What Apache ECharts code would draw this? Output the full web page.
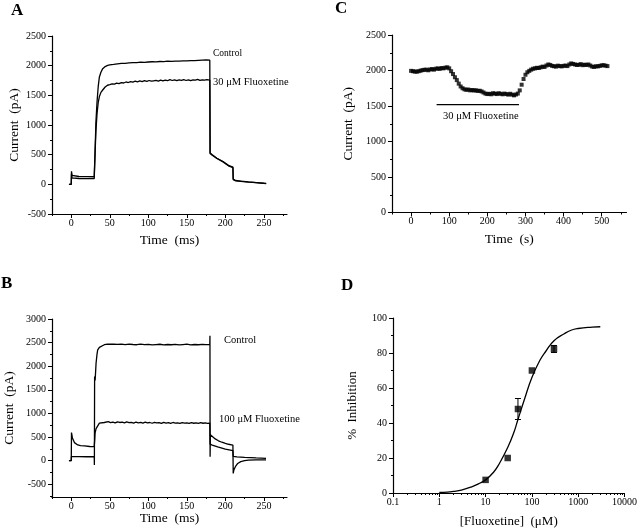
<!DOCTYPE html>
<html>
<head>
<meta charset="utf-8">
<script src="https://cdn.jsdelivr.net/npm/echarts@6/dist/echarts.min.js"></script>
<style>html,body{margin:0;padding:0;background:#fff}#c{width:640px;height:529px}</style>
</head>
<body>
<div id="c"></div>
<script>
// ---------- DATA ----------
// Panel A: current traces (time ms, current pA)
const aControl = [[-3,0],[0,0],[0.3,220],[1,150],[3,135],[10,132],[20,130],[29.8,128],[30,128],[31,600],[32,1050],[33.5,1400],[35,1650],[36.5,1810],[38.5,1890],[40.8,1950],[44,1985],[47.3,2005],
  [50,2015],[55,2022],[60,2030],[65,2038],[70,2040],[75,2046],[80,2050],[85,2052],[90,2058],[95,2055],[100,2062],[105,2066],[110,2064],[115,2070],[120,2068],[125,2075],[130,2072],[135,2078],[140,2076],[145,2082],[150,2080],[155,2086],[160,2084],[165,2090],[170,2095],[175,2098],[179.8,2092],
  [180,2092],[180.2,530],[183,500],[189,440],[197,385],[204,320],[209.8,290],[210,290],[210.2,90],[213,65],[220,55],[230,40],[240,30],[250,15],[253,12]];
const aFluox30 = [[-3,0],[0,0],[0.3,180],[1,110],[3,100],[10,98],[20,96],[29.8,95],[30,95],[31,550],[32,900],[33.5,1200],[35,1380],[36.5,1480],[38.5,1550],[40.8,1590],[44,1640],
  [47,1670],[50,1680],[53,1692],[56,1688],[59,1705],[62,1698],[65,1715],[68,1708],[71,1725],[74,1716],[77,1732],[80,1722],[83,1738],[86,1728],[89,1742],[92,1732],[95,1748],[98,1735],[101,1750],[104,1738],[107,1745],[110,1752],[113,1740],[116,1756],[119,1744],[122,1758],[125,1746],[128,1765],[131,1750],[134,1762],[137,1748],[140,1760],[143,1752],[146,1765],[149,1750],[152,1762],[155,1748],[158,1760],[161,1755],[164,1768],[167,1752],[170,1762],[173,1756],[176,1765],[179.8,1758],
  [180,1758],[180.2,520],[183,490],[189,435],[197,378],[204,312],[209.8,280],[210,280],[210.2,80],[213,60],[220,50],[230,38],[240,28],[250,18],[253,15]];

// Panel B: current traces (time ms, current pA)
const bControl = [[-3,0],[0,0],[0.2,85],[2,85],[10,85],[20,82],[29.8,85],[30,-90],[30.3,1780],[31,1700],[32.2,2066],[33.4,2250],[34.3,2348],[36.5,2400],[38.6,2433],[42.9,2455],[47.2,2468],
  [50,2465],[55,2470],[60,2462],[65,2468],[70,2458],[75,2466],[80,2460],[85,2455],[90,2468],[95,2458],[100,2462],[105,2450],[110,2458],[115,2465],[120,2452],[125,2460],[130,2455],[135,2462],[140,2450],[145,2458],[150,2466],[155,2452],[160,2460],[165,2455],[170,2462],[175,2458],[179.8,2460],
  [180,2645],[180.2,85],[180.5,550],[183,520],[186.9,460],[191,420],[195.5,390],[200,365],[204.1,347],[209.8,330],[210,330],[210.2,-270],[211,-200],[213,-127],[216,-60],[220,-21],[225,0],[230,12],[240,15],[252.8,15]];
const bFluox100 = [[-3,0],[0,0],[0.3,594],[1.5,480],[4.1,382],[8.4,333],[12,318],[17.1,312],[24,300],[29.8,297],[30,297],[30.5,450],[30.9,581],[32.2,680],[33.4,721],[36.5,793],[42.9,808],
  [45,812],[48,825],[51,805],[54,818],[57,800],[60,822],[63,808],[66,815],[69,798],[72,820],[75,805],[78,812],[81,795],[84,818],[87,802],[90,810],[93,795],[96,815],[99,800],[102,808],[105,792],[108,812],[111,798],[114,806],[117,790],[120,810],[123,795],[126,805],[129,790],[132,808],[135,795],[138,802],[141,788],[144,806],[147,795],[150,800],[153,788],[156,805],[159,792],[162,800],[165,788],[168,804],[171,792],[174,798],[177,790],[179.8,795],
  [180,795],[180.2,350],[183,330],[190,290],[200,245],[209.8,210],[210,210],[210.2,90],[215,80],[225,70],[240,58],[252.8,50]];

// Panel C: current vs time (s), every 5 s
const cTime = [0,5,10,15,20,25,30,35,40,45,50,55,60,65,70,75,80,85,90,95,100,105,110,115,120,125,130,135,140,145,150,155,160,165,170,175,180,185,190,195,200,205,210,215,220,225,230,235,240,245,250,255,260,265,270,275,280,285,290,295,300,305,310,315,320,325,330,335,340,345,350,355,360,365,370,375,380,385,390,395,400,405,410,415,420,425,430,435,440,445,450,455,460,465,470,475,480,485,490,495,500,505,510,515];
const cCurrent = [1995,1990,1985,1983,1990,1998,2005,2010,2012,2003,2015,2020,2012,2025,2030,2022,2035,2030,2040,2045,2030,1990,1950,1905,1865,1815,1775,1750,1735,1728,1732,1720,1725,1718,1722,1712,1715,1705,1690,1675,1668,1672,1665,1680,1675,1668,1680,1672,1665,1675,1668,1660,1672,1660,1650,1662,1675,1720,1800,1880,1940,1975,1995,2012,2025,2030,2038,2035,2045,2055,2050,2070,2085,2078,2065,2060,2055,2068,2062,2058,2065,2070,2062,2085,2100,2092,2085,2078,2080,2090,2075,2082,2078,2085,2070,2055,2050,2060,2058,2065,2072,2075,2068,2062];
const cBarTime = [67,283];
const cBarLevel = 1520;

// Panel D: dose-response
const dConc = [10,30,50,100,300];
const dInhibition = [7.5,20,48,70,82.3];
const dError = [0,0,6,0,2];
const dFitConc = [1,1.5,2,3,5,7,10,15,20,30,40,50,70,100,150,200,300,500,700,1000,2000,3000];
const dFitInhibition = [0.3,0.5,0.9,1.7,3.5,5.2,7.5,12,17,26,34,42,54,66,76,81,87,91,93,94,94.8,95];

// Tick labels
const abTimeTicks = [0,50,100,150,200,250];
const abTimeMinor = [-25,25,75,125,175,225,275];
const aCurrentTicks = [-500,0,500,1000,1500,2000,2500];
const aCurrentMinor = [-250,250,750,1250,1750,2250];
const bCurrentTicks = [-500,0,500,1000,1500,2000,2500,3000];
const bCurrentMinor = [-750,-250,250,750,1250,1750,2250,2750];
const cTimeTicks = [0,100,200,300,400,500];
const cTimeMinor = [-50,50,150,250,350,450,550];
const cCurrentTicks = [0,500,1000,1500,2000,2500];
const cCurrentMinor = [250,750,1250,1750,2250];
const dInhTicks = [0,20,40,60,80,100];
const dInhMinor = [10,30,50,70,90];
const dConcMinor = [0.2,0.3,0.4,0.5,0.6,0.7,0.8,0.9,2,3,4,5,6,7,8,9,20,30,40,50,60,70,80,90,200,300,400,500,600,700,800,900,2000,3000,4000,5000,6000,7000,8000,9000];

// ---------- CHART ----------
const FONT = '"Liberation Serif","Times New Roman",serif';
const chart = echarts.init(document.getElementById('c'), null, {renderer:'canvas'});

const grids = [
  {left:52, top:36, width:235, height:178},
  {left:52, top:319, width:235, height:178},
  {left:392, top:35, width:234.5, height:177.5},
  {left:393, top:318, width:237, height:176.5}
];
const plain = v => String(v);

function mainAxis(o){
  return Object.assign({
    axisLine:{show:true, onZero:false, lineStyle:{color:'#000', width:1.2}},
    axisTick:{show:true, length:4, lineStyle:{color:'#000'}, customValues:o.ticks},
    axisLabel:{show:true, color:'#000', fontFamily:FONT, fontSize:10, customValues:o.ticks, formatter:plain},
    splitLine:{show:false},
    nameTextStyle:{fontFamily:FONT, fontSize:13.5, color:'#000'},
    nameLocation:'middle'
  }, o.extra);
}
function minorAxis(o){
  return Object.assign({
    axisLine:{show:false, onZero:false},
    axisTick:{show:true, length:2, lineStyle:{color:'#000'}, customValues:o.ticks},
    axisLabel:{show:false},
    splitLine:{show:false}
  }, o.extra);
}

const xAxes = [
  mainAxis({ticks:abTimeTicks, extra:{type:'value', gridIndex:0, position:'bottom', min:-25, max:280, name:'Time  (ms)', nameGap:19}}),
  minorAxis({ticks:abTimeMinor, extra:{type:'value', gridIndex:0, position:'bottom', min:-25, max:280}}),
  mainAxis({ticks:abTimeTicks, extra:{type:'value', gridIndex:1, position:'bottom', min:-25, max:280, name:'Time  (ms)', nameGap:14}}),
  minorAxis({ticks:abTimeMinor, extra:{type:'value', gridIndex:1, position:'bottom', min:-25, max:280}}),
  mainAxis({ticks:cTimeTicks, extra:{type:'value', gridIndex:2, position:'bottom', min:-50, max:565, name:'Time  (s)', nameGap:20}}),
  minorAxis({ticks:cTimeMinor, extra:{type:'value', gridIndex:2, position:'bottom', min:-50, max:565}}),
  {type:'log', logBase:10, gridIndex:3, position:'bottom', min:0.1, max:10000, name:'[Fluoxetine]  (\u03bcM)', nameLocation:'middle', nameGap:22,
    nameTextStyle:{fontFamily:FONT, fontSize:13, color:'#000'},
    axisLine:{show:true, onZero:false, lineStyle:{color:'#000', width:1.2}},
    axisTick:{show:true, length:4, lineStyle:{color:'#000'}},
    axisLabel:{show:true, color:'#000', fontFamily:FONT, fontSize:10, formatter:plain},
    splitLine:{show:false}},
  minorAxis({ticks:dConcMinor, extra:{type:'log', logBase:10, gridIndex:3, position:'bottom', min:0.1, max:10000}})
];
const yAxes = [
  mainAxis({ticks:aCurrentTicks, extra:{type:'value', gridIndex:0, position:'left', min:-500, max:2500, name:'Current  (pA)', nameGap:31}}),
  minorAxis({ticks:aCurrentMinor, extra:{type:'value', gridIndex:0, position:'left', min:-500, max:2500}}),
  mainAxis({ticks:bCurrentTicks, extra:{type:'value', gridIndex:1, position:'left', min:-770, max:3000, name:'Current  (pA)', nameGap:36}}),
  minorAxis({ticks:bCurrentMinor, extra:{type:'value', gridIndex:1, position:'left', min:-770, max:3000}}),
  mainAxis({ticks:cCurrentTicks, extra:{type:'value', gridIndex:2, position:'left', min:0, max:2500, name:'Current  (pA)', nameGap:37}}),
  minorAxis({ticks:cCurrentMinor, extra:{type:'value', gridIndex:2, position:'left', min:0, max:2500}}),
  mainAxis({ticks:dInhTicks, extra:{type:'value', gridIndex:3, position:'left', min:0, max:100, name:'%  Inhibition', nameGap:34, nameTextStyle:{fontFamily:FONT, fontSize:13, color:'#000'}}}),
  minorAxis({ticks:dInhMinor, extra:{type:'value', gridIndex:3, position:'left', min:0, max:100}})
];
yAxes.forEach(a => { if (a.axisLabel && a.axisLabel.show) a.axisLabel.margin = 6; });
xAxes.forEach(a => { if (a.axisLabel && a.axisLabel.show) a.axisLabel.margin = 4; });

const traceStyle = {color:'#000', width:1.3};
function trace(data, xi, yi){
  return {type:'line', data:data, xAxisIndex:xi, yAxisIndex:yi, showSymbol:false, symbol:'none',
    lineStyle:traceStyle, itemStyle:{color:'#000'}, animation:false, silent:true};
}

const series = [
  trace(aControl, 0, 0),
  trace(aFluox30, 0, 0),
  trace(bControl, 2, 2),
  trace(bFluox100, 2, 2),
  {type:'scatter', xAxisIndex:4, yAxisIndex:4, data:cTime.map((t,i)=>[t,cCurrent[i]]),
    symbol:'rect', symbolSize:4, itemStyle:{color:'#000'}, animation:false, silent:true},
  trace(cBarTime.map(t=>[t,cBarLevel]), 4, 4),
  Object.assign(trace(dFitConc.map((c,i)=>[c,dFitInhibition[i]]), 6, 6), {smooth:true}),
  {type:'custom', xAxisIndex:6, yAxisIndex:6, silent:true, animation:false,
    data:dConc.map((c,i)=>[c, dInhibition[i]-dError[i], dInhibition[i]+dError[i]]).filter(d=>d[2]>d[1]),
    renderItem:function(params, api){
      const lo = api.coord([api.value(0), api.value(1)]);
      const hi = api.coord([api.value(0), api.value(2)]);
      const w = 3;
      const st = {stroke:'#000', lineWidth:1};
      return {type:'group', children:[
        {type:'line', shape:{x1:lo[0], y1:lo[1], x2:hi[0], y2:hi[1]}, style:st},
        {type:'line', shape:{x1:hi[0]-w, y1:hi[1], x2:hi[0]+w, y2:hi[1]}, style:st},
        {type:'line', shape:{x1:lo[0]-w, y1:lo[1], x2:lo[0]+w, y2:lo[1]}, style:st}
      ]};
    }},
  {type:'scatter', xAxisIndex:6, yAxisIndex:6, data:dConc.map((c,i)=>[c,dInhibition[i]]),
    symbol:'rect', symbolSize:6.5, itemStyle:{color:'#000'}, animation:false, silent:true, z:5}
];

const graphics = [
  {type:'text', left:11, top:2, style:{text:'A', font:'bold 17px '+FONT, fill:'#000'}},
  {type:'text', left:1, top:275, style:{text:'B', font:'bold 17px '+FONT, fill:'#000'}},
  {type:'text', left:335, top:0, style:{text:'C', font:'bold 17px '+FONT, fill:'#000'}},
  {type:'text', left:341, top:277, style:{text:'D', font:'bold 17px '+FONT, fill:'#000'}},
  {type:'text', left:213, top:48, style:{text:'Control', font:'9.5px '+FONT, fill:'#000'}},
  {type:'text', left:213, top:77, style:{text:'30 \u03bcM Fluoxetine', font:'10.5px '+FONT, fill:'#000'}},
  {type:'text', left:224, top:335, style:{text:'Control', font:'10.5px '+FONT, fill:'#000'}},
  {type:'text', left:219, top:414, style:{text:'100 \u03bcM Fluoxetine', font:'10.5px '+FONT, fill:'#000'}},
  {type:'text', left:443, top:111, style:{text:'30 \u03bcM Fluoxetine', font:'10.5px '+FONT, fill:'#000'}}
];

chart.setOption({
  animation:false,
  backgroundColor:'#fff',
  grid:grids,
  xAxis:xAxes,
  yAxis:yAxes,
  series:series,
  graphic:graphics
});
</script>
</body>
</html>
